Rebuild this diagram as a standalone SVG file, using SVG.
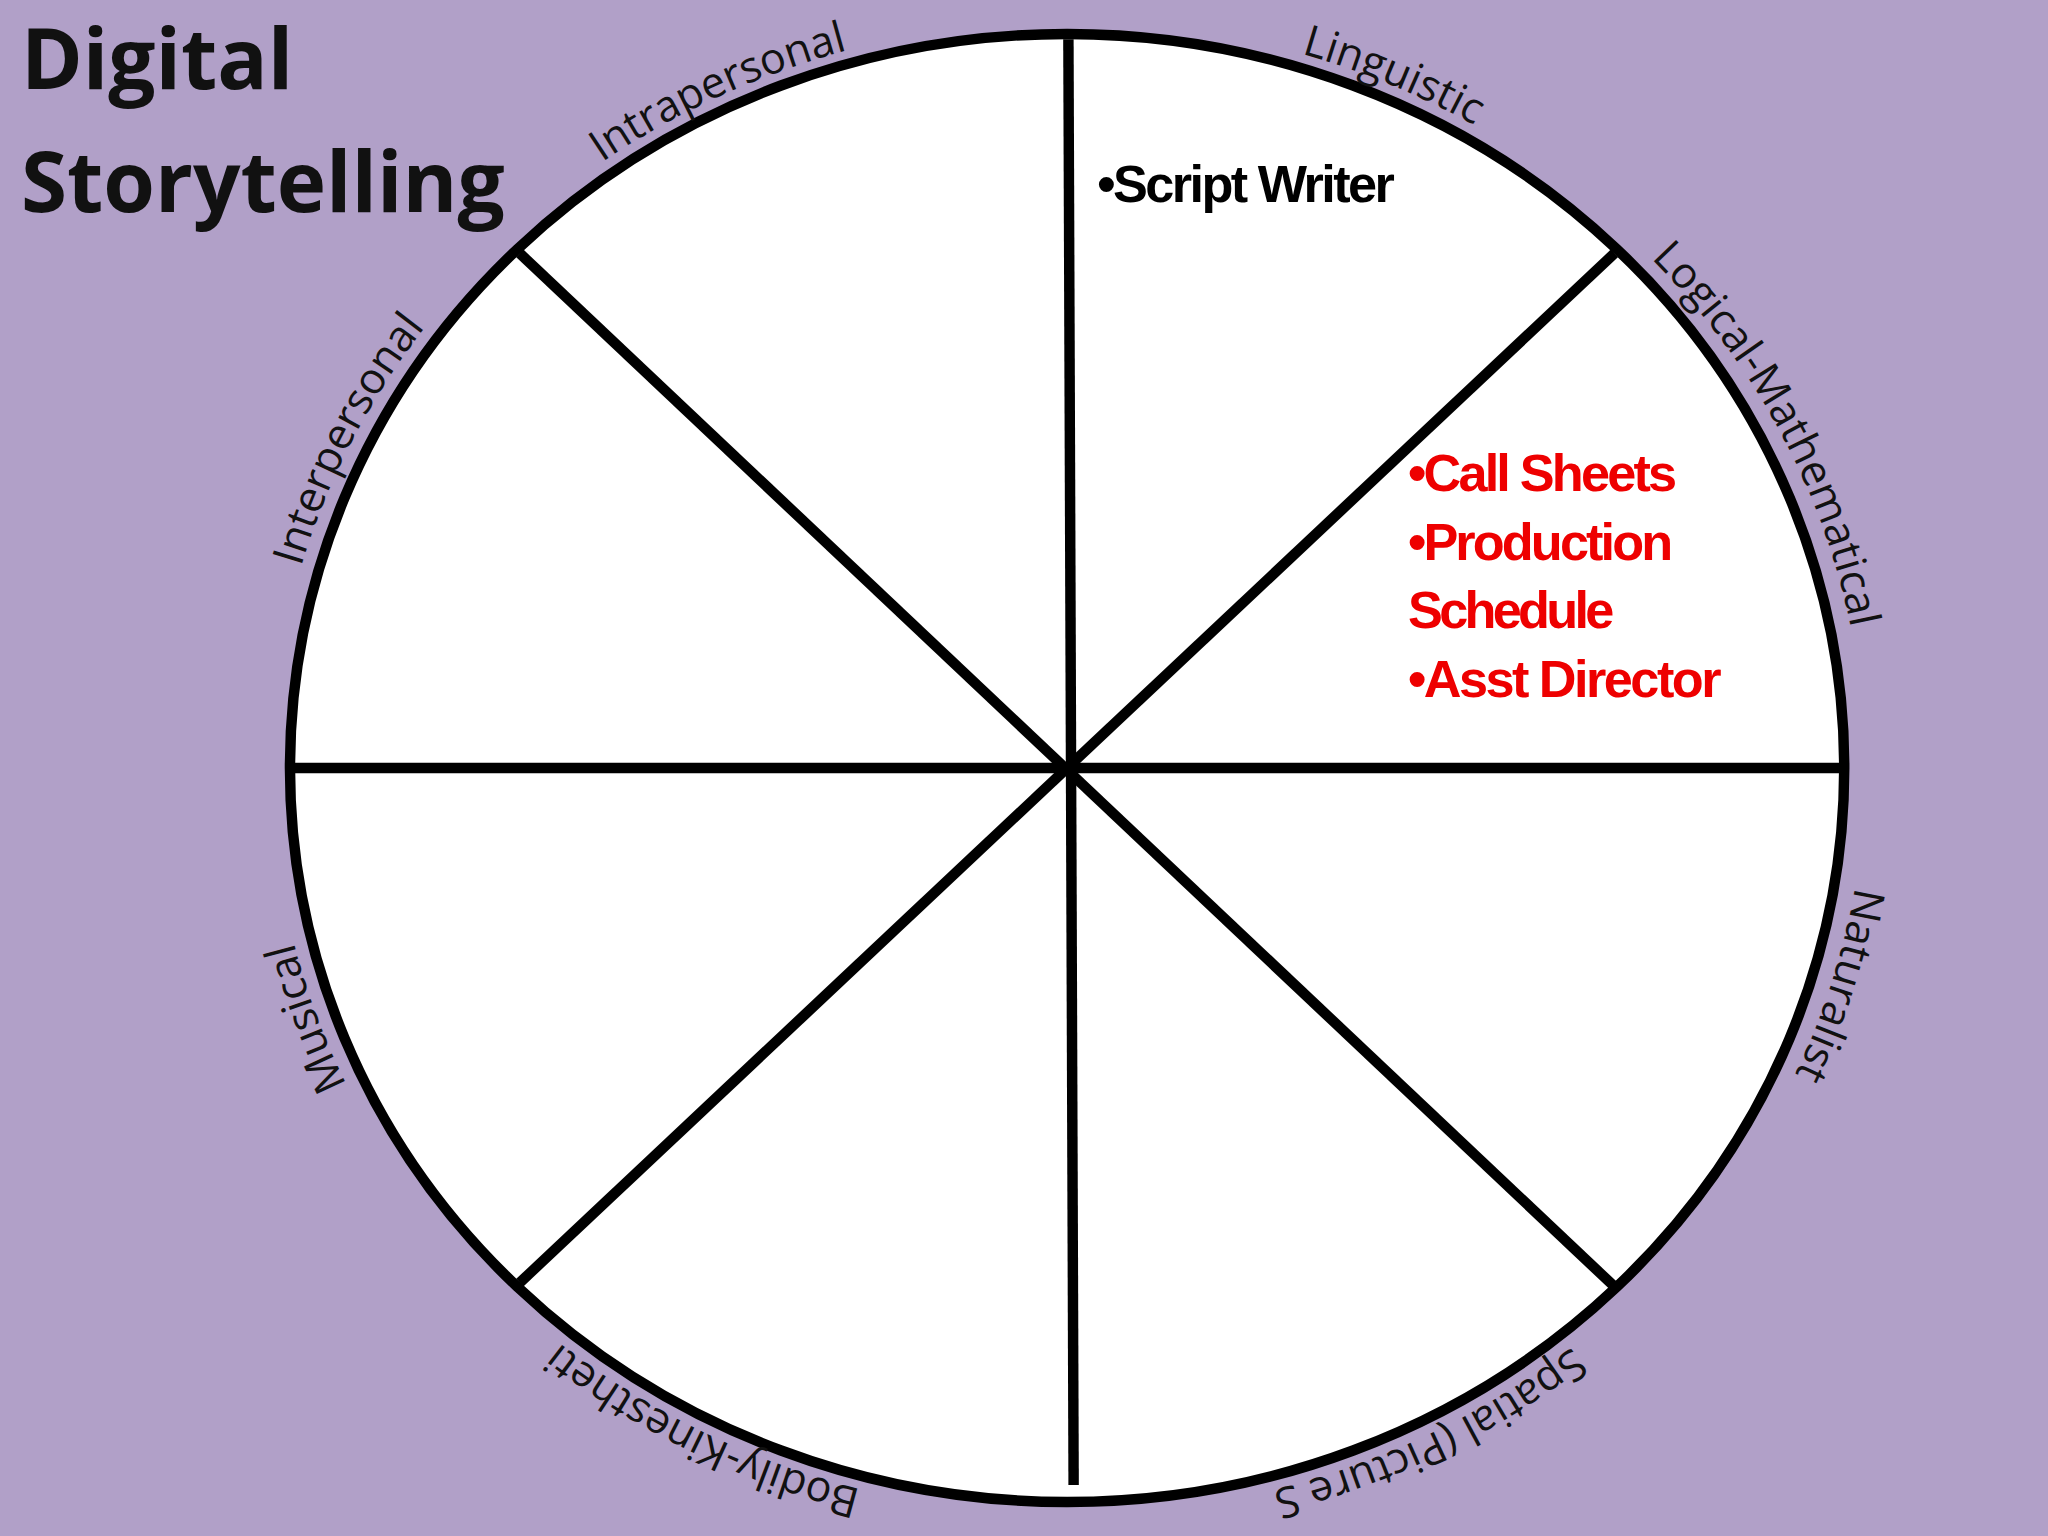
<svg xmlns="http://www.w3.org/2000/svg" width="2048" height="1536" viewBox="0 0 2048 1536">
<style>
.lbl{font-family:"Open Sans","Noto Sans",sans-serif;font-size:33px;fill:#111}
.sp{stroke:#000;stroke-width:8;fill:none}
.item{font-family:"Liberation Sans Narrow","Liberation Sans",sans-serif;font-weight:bold;font-size:40px}
</style>
<defs>
<path id="ring" d="M 818,16 A 610 572 0 1 1 818,1160 A 610 572 0 1 1 818,16"/>
</defs>
<rect width="2048" height="1536" fill="#b1a0c8"/>
<g transform="scale(1.30612)">
<g id="wheel">
<ellipse cx="817" cy="588" rx="595" ry="562" fill="#fff" stroke="#000" stroke-width="8"/>
</g>
<g id="connectors">
<line class="sp" x1="818" y1="30" x2="822" y2="1137"/>
<line class="sp" x1="224" y1="588" x2="1411" y2="588"/>
<line class="sp" x1="398" y1="194" x2="1236" y2="985"/>
<line class="sp" x1="1236" y1="194" x2="398" y2="982"/>
</g>
<g id="title">
<text x="16" y="68" font-family="'Open Sans','Noto Sans',sans-serif" font-weight="bold" font-size="64" fill="#111">Digital</text>
<text x="16" y="162" font-family="'Open Sans','Noto Sans',sans-serif" font-weight="bold" font-size="64" fill="#111">Storytelling</text>
</g>
<g id="labels">
<text class="lbl" text-anchor="middle"><textPath href="#ring" startOffset="92.6%">Intrapersonal</textPath></text>
<text class="lbl" text-anchor="middle"><textPath href="#ring" startOffset="6.8%">Linguistic</textPath></text>
<text class="lbl" text-anchor="middle"><textPath href="#ring" startOffset="17.7%">Logical-Mathematical</textPath></text>
<text class="lbl" text-anchor="middle"><textPath href="#ring" startOffset="29.5%">Naturalist</textPath></text>
<text class="lbl" text-anchor="middle"><textPath href="#ring" startOffset="42.3%">Spatial (Picture S</textPath></text>
<text class="lbl" text-anchor="middle"><textPath href="#ring" startOffset="57.8%">Bodily-Kinestheti</textPath></text>
<text class="lbl" text-anchor="middle"><textPath href="#ring" startOffset="69.8%">Musical</textPath></text>
<text class="lbl" text-anchor="middle"><textPath href="#ring" startOffset="82%">Interpersonal</textPath></text>
</g>
<g id="script-writer">
<text class="item" x="840" y="155" fill="#000" textLength="228">•Script Writer</text>
</g>
<g id="logical-items" fill="#ee0000">
<text class="item" x="1078" y="376" textLength="206">•Call Sheets</text>
<text class="item" x="1078" y="429" textLength="203">•Production</text>
<text class="item" x="1078" y="481" textLength="158">Schedule</text>
<text class="item" x="1078" y="534" textLength="240">•Asst Director</text>
</g>
</g>
</svg>
